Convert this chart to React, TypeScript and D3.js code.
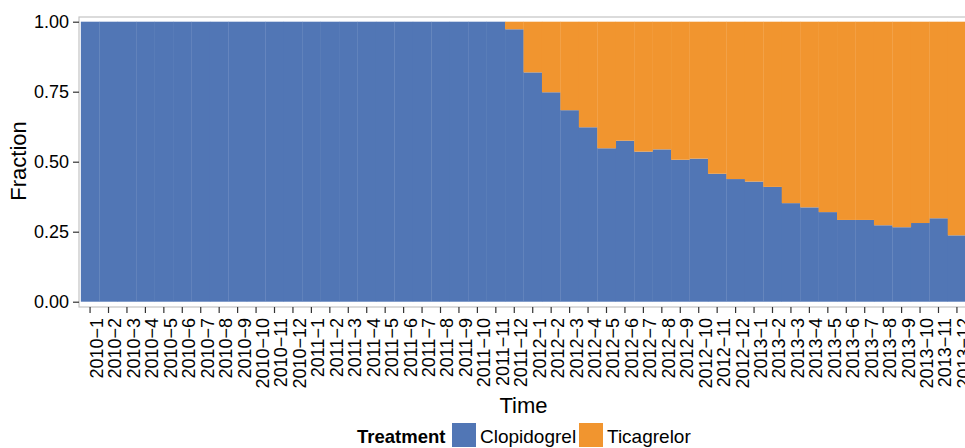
import { useEffect, useRef } from "react";
import * as d3 from "d3";

// months 2010-1 .. 2013-12
const years = [2010, 2011, 2012, 2013];
const months = years.flatMap(y => d3.range(1, 13).map(m => `${y}\u2212${m}`));

// fraction of patients on each treatment, per month
const clopidogrel = [
  1, 1, 1, 1, 1, 1, 1, 1, 1, 1, 1, 1,
  1, 1, 1, 1, 1, 1, 1, 1, 1, 1, 1, 0.973,
  0.819, 0.748, 0.684, 0.623, 0.548, 0.575, 0.536, 0.544, 0.507, 0.511, 0.457, 0.438,
  0.429, 0.41, 0.352, 0.337, 0.32, 0.292, 0.292, 0.273, 0.266, 0.281, 0.298, 0.237
];
const ticagrelor = [
  0, 0, 0, 0, 0, 0, 0, 0, 0, 0, 0, 0,
  0, 0, 0, 0, 0, 0, 0, 0, 0, 0, 0, 0.027,
  0.181, 0.252, 0.316, 0.377, 0.452, 0.425, 0.464, 0.456, 0.493, 0.489, 0.543, 0.562,
  0.571, 0.59, 0.648, 0.663, 0.68, 0.708, 0.708, 0.727, 0.734, 0.719, 0.702, 0.763
];
const treatments = ["Clopidogrel", "Ticagrelor"];
const colors = ["#5176B5", "#F1952F"];
const yTicks = [0, 0.25, 0.5, 0.75, 1];

const W = 965;
const H = 448;
const panel = { left: 79, right: 968, top: 17, bottom: 307 };
const font = "'Liberation Sans', Arial, Helvetica, sans-serif";

const App = () => {
  const svgRef = useRef<SVGSVGElement>(null);

  useEffect(() => {
    const svg = d3.select(svgRef.current);
    svg.selectAll("*").remove();

    const rows = months.map((m, i) => ({ month: m, Clopidogrel: clopidogrel[i], Ticagrelor: ticagrelor[i] }));
    const stack = d3.stack<any>().keys(treatments)(rows);

    const x = d3.scaleBand()
      .domain(months)
      .range([panel.left, panel.right])
      .paddingInner(0)
      .paddingOuter(0.1);

    const y = d3.scaleLinear().domain([0, 1]).range([301.7, 21.7]);

    const color = d3.scaleOrdinal<string>().domain(treatments).range(colors);

    // panel
    svg.append("rect")
      .attr("x", panel.left)
      .attr("y", panel.top)
      .attr("width", panel.right - panel.left)
      .attr("height", panel.bottom - panel.top)
      .attr("fill", "#fff")
      .attr("stroke", "#c4c4c4")
      .attr("stroke-width", 1.2);

    svg.append("g")
      .selectAll("g")
      .data(stack)
      .join("g")
      .attr("fill", d => color(d.key))
      .selectAll("rect")
      .data(d => d)
      .join("rect")
      .attr("x", d => x(d.data.month)!)
      .attr("width", x.bandwidth() + 0.3)
      .attr("y", d => y(d[1]))
      .attr("height", d => y(d[0]) - y(d[1]));

    // y axis
    const yAxis = svg.append("g")
      .attr("transform", `translate(${panel.left},0)`)
      .call(d3.axisLeft(y).tickValues(yTicks).tickFormat(d3.format(".2f")).tickSize(6).tickPadding(4));
    yAxis.select(".domain").remove();
    yAxis.selectAll("line").attr("stroke", "#333").attr("stroke-width", 1.2);
    yAxis.selectAll("text")
      .attr("font-family", font)
      .attr("font-size", 18)
      .attr("fill", "#000");

    // x axis
    const xAxis = svg.append("g")
      .attr("transform", `translate(0,${panel.bottom})`)
      .call(d3.axisBottom(x).tickSize(6).tickPadding(0));
    xAxis.select(".domain").remove();
    xAxis.selectAll("line").attr("stroke", "#333").attr("stroke-width", 1.2);
    xAxis.selectAll("text")
      .attr("font-family", font)
      .attr("font-size", 18)
      .attr("fill", "#000")
      .attr("transform", "rotate(-90)")
      .attr("text-anchor", "end")
      .attr("x", -11)
      .attr("y", 0)
      .attr("dy", "0.72em");

    // axis titles
    svg.append("text")
      .attr("transform", "translate(26,161) rotate(-90)")
      .attr("text-anchor", "middle")
      .attr("font-family", font)
      .attr("font-size", 22)
      .attr("fill", "#000")
      .text("Fraction");

    svg.append("text")
      .attr("x", (panel.left + panel.right) / 2)
      .attr("y", 413)
      .attr("text-anchor", "middle")
      .attr("font-family", font)
      .attr("font-size", 22)
      .attr("fill", "#000")
      .text("Time");

    // legend
    const lg = svg.append("g").attr("font-family", font).attr("fill", "#000");
    lg.append("text")
      .attr("x", 357)
      .attr("y", 443)
      .attr("font-size", 18.5)
      .attr("font-weight", "bold")
      .text("Treatment");

    const keyX = [452, 579];
    treatments.forEach((t, i) => {
      lg.append("rect")
        .attr("x", keyX[i])
        .attr("y", 423)
        .attr("width", 24)
        .attr("height", 24)
        .attr("fill", color(t));
      lg.append("text")
        .attr("x", keyX[i] + 28)
        .attr("y", 443)
        .attr("font-size", 19)
        .text(t);
    });
  }, []);

  return (
    <svg
      ref={svgRef}
      width={W}
      height={H}
      style={{ position: "absolute", left: 0, top: 0, background: "#fff" }}
    />
  );
};

export default App;
